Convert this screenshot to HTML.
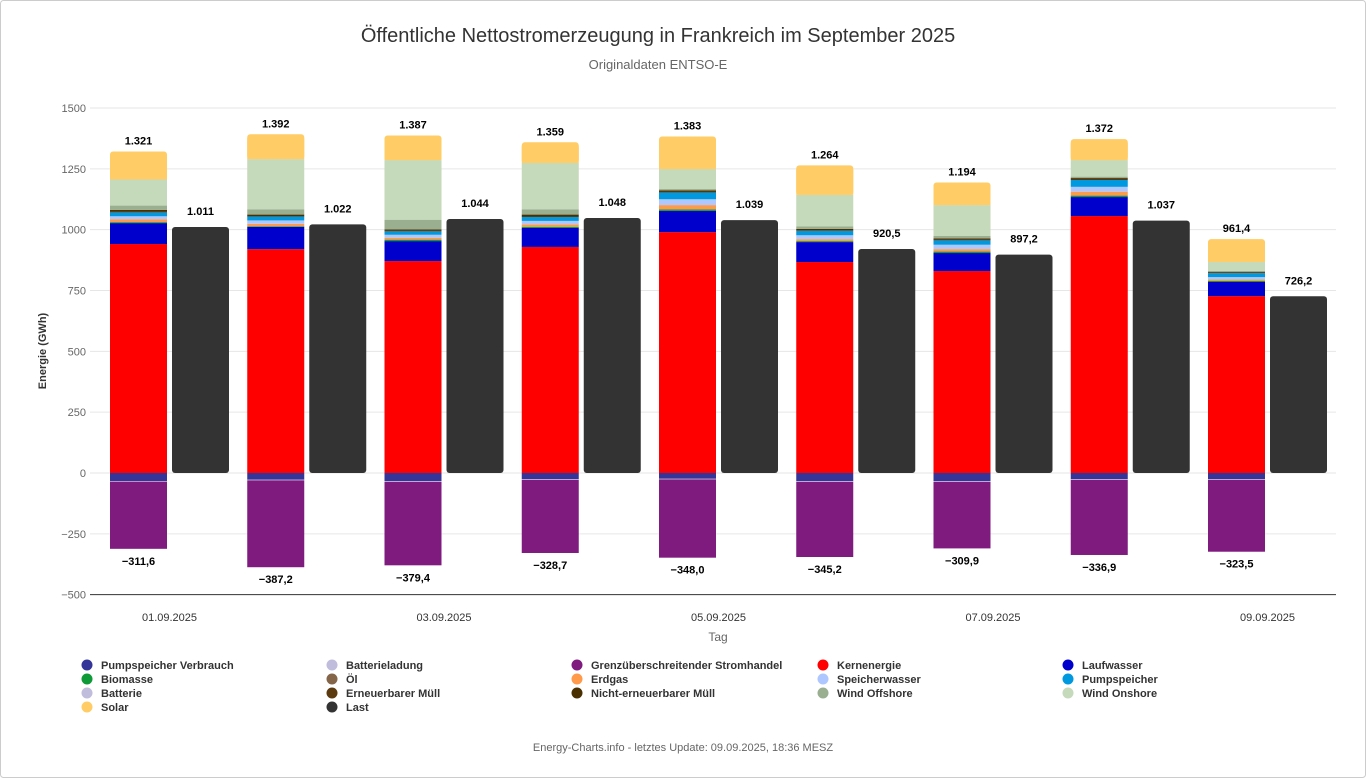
<!DOCTYPE html>
<html><head><meta charset="utf-8"><style>
body{margin:0;background:#fff;font-family:"Liberation Sans",sans-serif}
#wrap{position:relative;width:1366px;height:778px;overflow:hidden}
svg text{font-family:"Liberation Sans",sans-serif}
</style></head><body>
<div id="wrap">
<svg id="chart" width="1366" height="778">
<rect x="0.5" y="0.5" width="1365" height="777" rx="3" fill="#fff" stroke="#ccc"/>
<text x="658" y="42" text-anchor="middle" font-size="20" fill="#333">Öffentliche Nettostromerzeugung in Frankreich im September 2025</text>
<text x="658" y="69" text-anchor="middle" font-size="13" fill="#666">Originaldaten ENTSO-E</text>
<text transform="translate(46,351) rotate(-90)" text-anchor="middle" font-size="11" font-weight="bold" fill="#333">Energie (GWh)</text>
<text x="718" y="641" text-anchor="middle" font-size="12" fill="#666">Tag</text>
<text x="683" y="751" text-anchor="middle" font-size="11" fill="#666">Energy-Charts.info - letztes Update: 09.09.2025, 18:36 MESZ</text>
<g id="grid"></g><g id="bars"></g><g id="labels"></g><g id="legend"></g>
</svg></div>
<script>
const days=["01.09.2025","02.09.2025","03.09.2025","04.09.2025","05.09.2025","06.09.2025","07.09.2025","08.09.2025","09.09.2025"];
const yTicks=[-500,-250,0,250,500,750,1000,1250,1500];
const yTickLabels=["−500","−250","0","250","500","750","1000","1250","1500"];
const kern=[941,920,871,929,990,867,830,1056,727];
const lauf=[86,91,82,78,87,82,74,78,58];
const bio=[4,3,6,5,6,4,6,6,4];
const oel=[0,0,0,0,0,0,0,0,0];
const gas=[12,10,8,10,18,8,10,16,6];
const speicher=[12,14,12,14,24,16,18,20,10];
const pump=[16,16,14,16,28,18,18,28,16];
const batt=[0,0,0,0,0,0,0,0,0];
const muellE=[2,2,2,2,2,2,2,2,2];
const muellN=[8,6,6,8,6,6,6,6,4];
const offshore=[18,22,40,22,6,10,10,6,4];
const onshore=[107,206,245,190,82,130,127,68,36];
const solar=[115,102,101,85,134,121,93,86,94];
const genTotals=["1.321","1.392","1.387","1.359","1.383","1.264","1.194","1.372","961,4"];
const pumpUse=[-33,-28,-34,-26,-24,-34,-34,-26,-26];
const battCharge=[-2,-2,-2,-2,-2,-2,-2,-2,-2];
const trade=[-276.6,-357.2,-343.4,-300.7,-322,-309.2,-273.9,-308.9,-295.5];
const negTotals=["−311,6","−387,2","−379,4","−328,7","−348,0","−345,2","−309,9","−336,9","−323,5"];
const load=[1011,1022,1044,1048,1039,920.5,897.2,1037,726.2];
const loadLabels=["1.011","1.022","1.044","1.048","1.039","920,5","897,2","1.037","726,2"];

const NS="http://www.w3.org/2000/svg";
const y=v=>473-v*365/1500;
const xc=i=>169.5+i*137.25;
function mk(tag,attrs,parent,txt){const e=document.createElementNS(NS,tag);for(const k in attrs)e.setAttribute(k,attrs[k]);if(txt!==undefined)e.textContent=txt;parent.appendChild(e);return e;}
const G=document.getElementById('grid'),B=document.getElementById('bars'),L=document.getElementById('labels'),LG=document.getElementById('legend');
yTicks.forEach((t,i)=>{
 const ln=mk('line',{x1:90,x2:1336,y1:y(t),y2:y(t),stroke:t===-500?'#333':'#e6e6e6','stroke-width':1},G);
 
 
 const tx=mk('text',{x:86,y:y(t)+4,'text-anchor':'end','font-size':11,fill:'#666'},G,yTickLabels[i]);
 
 
});
days.forEach((d,i)=>{if(i%2===0){const t=mk('text',{x:xc(i),y:621,'text-anchor':'middle','font-size':11,fill:'#333'},G,d);
 
 }});
const pos=[["kernenergie",kern,"#ff0000"],["laufwasser",lauf,"#0000cc"],["biomasse",bio,"#0e9a38"],["oel",oel,"#85654a"],["erdgas",gas,"#ff9a4a"],["speicherwasser",speicher,"#aec8ff"],["pumpspeicher",pump,"#0099e0"],["batterie",batt,"#b8b8dd"],["erneuerbarer-muell",muellE,"#5c3a10"],["nicht-erneuerbarer-muell",muellN,"#4a3000"],["wind-offshore",offshore,"#9aaf90"],["wind-onshore",onshore,"#c5d9bb"],["solar",solar,"#ffcc66"]];
const neg=[["pumpspeicher-verbrauch",pumpUse,"#353599"],["batterieladung",battCharge,"#ffffff"],["stromhandel",trade,"#7f1a7f"]];
days.forEach((d,i)=>{
 const x0=xc(i)-59.5;let acc=0;
 pos.forEach(([n,arr,c],k)=>{const v=arr[i];if(v<=0)return;
  const last=(k===pos.length-1);
  const r=mk('rect',{x:x0,y:y(acc+v),width:57,height:v*365/1500+(last?0:0),fill:c},B);
  
  
  if(last){r.setAttribute('rx',3);const f=mk('rect',{x:x0,y:y(acc+v)+4,width:57,height:Math.max(0,v*365/1500-4),fill:c},B);
   
   }
  acc+=v;});
 const t1=mk('text',{x:x0+28.5,y:y(acc)-7,'text-anchor':'middle','font-size':11,'font-weight':'bold',fill:'#000'},L,genTotals[i]);
 
 
 let na=0;
 neg.forEach(([n,arr,c])=>{const v=arr[i];const r=mk('rect',{x:x0,y:y(na),width:57,height:-v*365/1500,fill:c},B);
  
  na+=v;});
 const t2=mk('text',{x:x0+28.5,y:y(na)+16,'text-anchor':'middle','font-size':11,'font-weight':'bold',fill:'#000'},L,negTotals[i]);
 
 
 const lx=xc(i)+2.5;
 const lr=mk('rect',{x:lx,y:y(load[i]),width:57,height:load[i]*365/1500,fill:'#333',rx:3},B);
 
 
 const t3=mk('text',{x:lx+28.5,y:y(load[i])-12,'text-anchor':'middle','font-size':11,'font-weight':'bold',fill:'#000'},L,loadLabels[i]);
 
 
});
const legendItems=[["Pumpspeicher Verbrauch","#353599"],["Batterieladung","#c0bcdc"],["Grenzüberschreitender Stromhandel","#7f1a7f"],["Kernenergie","#ff0000"],["Laufwasser","#0000cc"],["Biomasse","#0e9a38"],["Öl","#85654a"],["Erdgas","#ff9a4a"],["Speicherwasser","#aec8ff"],["Pumpspeicher","#0099e0"],["Batterie","#c0bcdc"],["Erneuerbarer Müll","#5c3a10"],["Nicht-erneuerbarer Müll","#4a3000"],["Wind Offshore","#9aaf90"],["Wind Onshore","#c5d9bb"],["Solar","#ffcc66"],["Last","#333333"]];
const colX=[87,332,577,823,1068];
legendItems.forEach(([n,c],k)=>{
 const cx=colX[k%5],cy=665+Math.floor(k/5)*14;
 const g=mk('g',{},LG);
 
 
 mk('circle',{cx:cx,cy:cy,r:5.5,fill:c},g);
 mk('text',{x:cx+14,y:cy+4,'font-size':11,'font-weight':'bold',fill:'#333'},g,n);
});
</script></body></html>
